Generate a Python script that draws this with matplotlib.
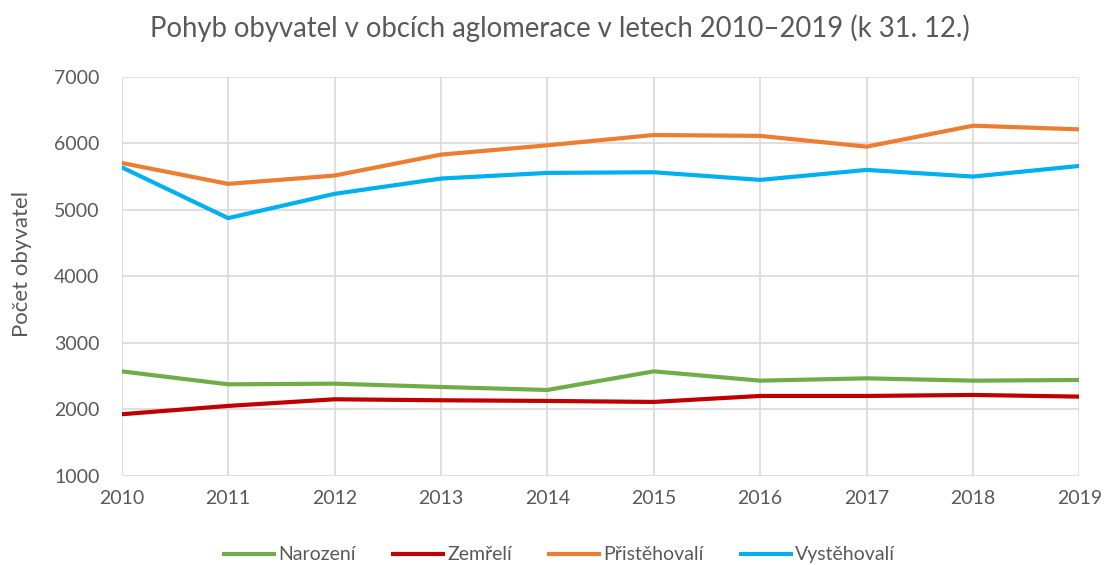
import matplotlib
matplotlib.use("Agg")
import matplotlib.pyplot as plt

years = [2010, 2011, 2012, 2013, 2014, 2015, 2016, 2017, 2018, 2019]
narozeni = [2570, 2375, 2385, 2335, 2290, 2570, 2430, 2465, 2430, 2440]
zemreli = [1925, 2050, 2150, 2135, 2125, 2110, 2200, 2200, 2215, 2190]
pristehovali = [5705, 5390, 5515, 5830, 5970, 6125, 6112, 5950, 6265, 6210]
vystehovali = [5640, 4875, 5240, 5470, 5555, 5565, 5450, 5600, 5500, 5660]

series = [
    ("Narození", narozeni, "#70AD47"),
    ("Zemřelí", zemreli, "#C00000"),
    ("Přistěhovalí", pristehovali, "#ED7D31"),
    ("Vystěhovalí", vystehovali, "#00B0F0"),
]

plt.rcParams['font.family'] = ['Lato', 'DejaVu Sans']

fig = plt.figure(figsize=(11.06, 5.65), dpi=100)
ax = fig.add_axes([0.110, 0.158, 0.866, 0.706])

for name, vals, col in series:
    ax.plot(years, vals, color=col, lw=3, label=name, solid_capstyle='butt')

ax.set_xlim(2010, 2019)
ax.set_ylim(1000, 7000)
ax.set_xticks(years)
ax.set_yticks(range(1000, 7001, 1000))
ax.grid(True, color="#d9d9d9", lw=1.2)
ax.set_axisbelow(True)
for s in ax.spines.values():
    s.set_visible(False)
ax.tick_params(length=0, labelsize=14, colors="#595959")
ax.tick_params(axis='y', pad=16)
ax.tick_params(axis='x', pad=10)
ax.set_ylabel("Počet obyvatel", fontsize=16, color="#595959")
ax.yaxis.set_label_coords(-0.094, 0.531)

fig.text(0.506, 0.950, "Pohyb obyvatel v obcích aglomerace v letech 2010–2019 (k 31. 12.)",
         ha='center', va='center', fontsize=19.8, color="#595959")

leg = fig.legend(loc='center', bbox_to_anchor=(0.505, 0.018), ncol=4, frameon=False,
                 fontsize=14, handlelength=2.8, handletextpad=0.1, columnspacing=1.8)
for t in leg.get_texts():
    t.set_color("#595959")

fig.savefig("out.png", dpi=100)
